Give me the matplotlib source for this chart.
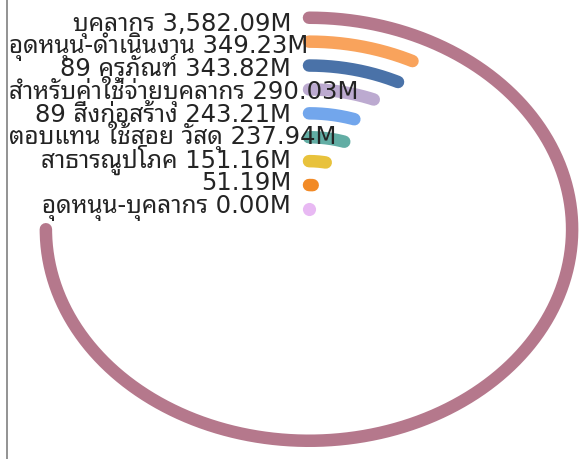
import numpy as np
import matplotlib
matplotlib.use("Agg")
import matplotlib.pyplot as plt
from matplotlib import font_manager as fm
from matplotlib.ft2font import FT2Font
from matplotlib import transforms as mtrans

# ---------------- data (outer ring first) ----------------
categories = ["บุคลากร", "อุดหนุน-ดำเนินงาน", "89 ครุภัณฑ์", "สำหรับค่าใช้จ่ายบุคลากร",
              "89 สิ่งก่อสร้าง", "ตอบแทน ใช้สอย วัสดุ", "สาธารณูปโภค", "", "อุดหนุน-บุคลากร"]
values_m = [3582.09, 349.23, 343.82, 290.03, 243.21, 237.94, 151.16, 51.19, 0.00]
colors = ["#b5788c", "#f9a35c", "#4a72a8", "#bcaad0", "#72a6ec", "#62ada4",
          "#e8c23c", "#f28a26", "#e8b9f3"]

# ---------------- font with Thai glyphs ----------------
def find_thai_font():
    prefs = ["Noto Sans Thai Looped", "Noto Sans Thai", "Noto Sans Thai UI", "Leelawadee UI",
             "Tahoma", "Sarabun", "Garuda", "Loma", "Waree", "Umpush", "Kinnari"]
    found = {}
    for f in fm.fontManager.ttflist:
        try:
            cm = FT2Font(f.fname).get_charmap()
        except Exception:
            continue
        if 0x0E01 in cm and 0x0E38 in cm and 0x0E48 in cm:
            found.setdefault(f.name, f.fname)
    for p in prefs:
        if p in found:
            return p
    return next(iter(found)) if found else None

thai = find_thai_font()
plt.rcParams["font.family"] = ["DejaVu Sans"] + ([thai] if thai else [])

W, H, DPI = 581, 459, 100
fig = plt.figure(figsize=(W / DPI, H / DPI), dpi=DPI)
axis_px = 7
ax = fig.add_axes([axis_px / W, 0, 1 - axis_px / W, 1])

# layout: centre pixel and pixel size of one ring step (image is stretched horizontally)
cx_px, cy_px = 309.0, 229.25
unit_y = 23.9
unit_x = unit_y * 1.244
ax.set_xlim((axis_px - cx_px) / unit_x, (W - cx_px) / unit_x)
ax.set_ylim(-(H - cy_px) / unit_y, cy_px / unit_y)

for s in ["top", "right", "bottom"]:
    ax.spines[s].set_visible(False)
ax.spines["left"].set_color("#8a8a8a")
ax.spines["left"].set_linewidth(1.3)
ax.set_xticks([])
ax.set_yticks([])

n = len(values_m)
vmax = max(values_m)
max_angle = np.deg2rad(270)
inner_r = 0.85
lw = 9

for i, (v, c) in enumerate(zip(values_m, colors)):
    r = inner_r + (n - 1 - i)
    ang = v / vmax * max_angle
    if ang > 0:
        t = np.linspace(0, ang, 300)
        ax.plot(r * np.sin(t), r * np.cos(t), color=c, lw=lw, solid_capstyle="round", zorder=2)
    else:
        ax.plot([0], [r], marker="o", ms=lw * 1.05, color=c, mec="none", zorder=2)

# labels
fs = 17.5
cap_px = 0.73 * fs * DPI / 72
texts = []
blend = mtrans.blended_transform_factory(fig.transFigure, ax.transData)
for i, (cat, v) in enumerate(zip(categories, values_m)):
    r = inner_r + (n - 1 - i)
    y = 0.953 * r + 0.249
    lab = (cat + " " if cat else "") + f"{v:,.2f}M"
    off = mtrans.ScaledTranslation(0, -cap_px / 2 / DPI, fig.dpi_scale_trans)
    t = ax.text((cx_px - 18) / W, y, lab, transform=blend + off, ha="right", va="baseline",
                fontsize=fs, color="#242424", zorder=5)
    texts.append(t)

fig.canvas.draw()
rend = fig.canvas.get_renderer()
for t in texts:
    bb = t.get_window_extent(rend)
    if bb.x0 < axis_px + 2:
        t.set_ha("left")
        t.set_x((axis_px + 2) / W)

fig.savefig("out.png", dpi=DPI)
